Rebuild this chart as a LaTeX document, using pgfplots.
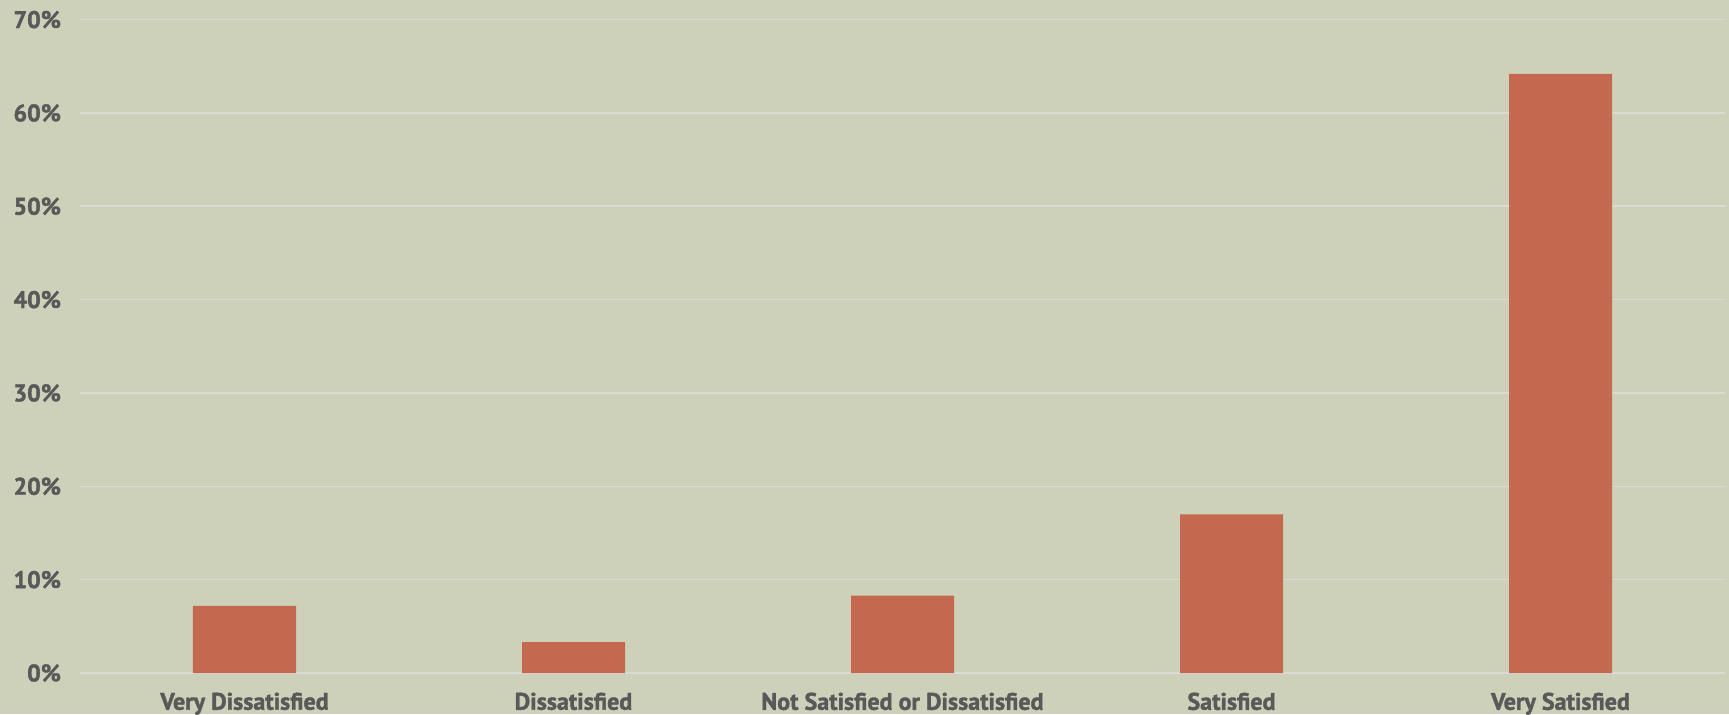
\documentclass[border=0pt]{standalone}
\usepackage{pgfplots}
\pgfplotsset{compat=1.18}
\usepackage{fontspec}
\setmainfont{PT Sans}[FakeBold=1.6]
\definecolor{bg}{HTML}{CDD1B9}
\definecolor{barc}{HTML}{C4694F}
\definecolor{gridc}{HTML}{DADAD6}
\definecolor{txt}{HTML}{595959}
\begin{document}
\begin{tikzpicture}
\fill[bg] (-40pt,-20.5pt) rectangle (824.5pt,336.5pt);
\begin{axis}[
  scale only axis,
  width=822.5pt, height=326.7pt,
  xmin=-0.5, xmax=4.5,
  ymin=0, ymax=70,
  ytick={0,10,...,70},
  xtick={0,1,2,3,4},
  xticklabels={Very Dissatisfied, Dissatisfied, Not Satisfied or Dissatisfied, Satisfied, Very Satisfied},
  yticklabel={\pgfmathprintnumber{\tick}\%},
  /pgf/number format/assume math mode=true,
  ymajorgrids,
  grid style={gridc, line width=0.8pt},
  axis line style={draw=none},
  major tick length=0pt,
  tick label style={font=\fontsize{12}{14}\bfseries\selectfont, text=txt},
  yticklabel style={xshift=-6pt},
  xticklabel style={yshift=-6.3pt},
  ybar, bar width=51.5pt,
  axis background/.style={fill=bg},
  clip=false,
]
\addplot[fill=barc, draw=none] coordinates {(0,7.2) (1,3.3) (2,8.3) (3,17.0) (4,64.2)};
\end{axis}
\pgfresetboundingbox
\path[use as bounding box] (-40pt,-20.5pt) rectangle (824.5pt,336.5pt);
\end{tikzpicture}
\end{document}
